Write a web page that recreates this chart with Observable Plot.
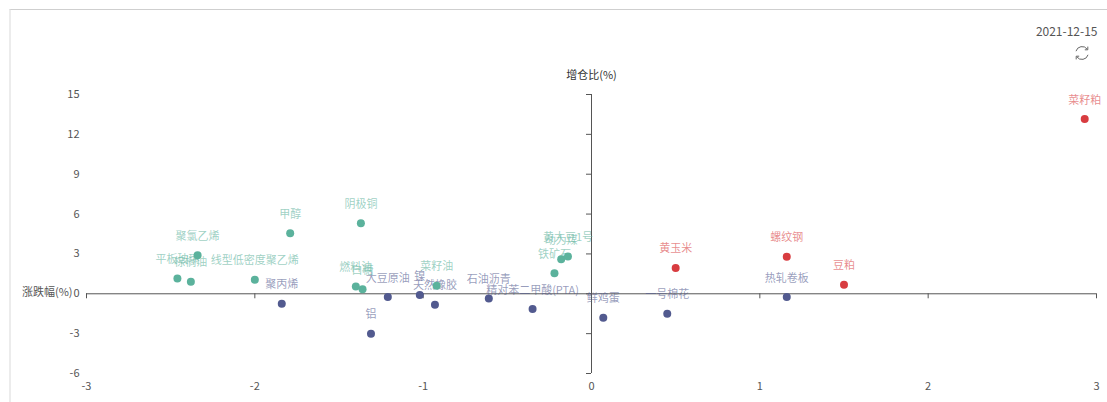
<!DOCTYPE html>
<html><head><meta charset="utf-8">
<script src="https://cdn.jsdelivr.net/npm/d3@7"></script>
<script src="https://cdn.jsdelivr.net/npm/@observablehq/plot@0.6"></script>
<style>
html,body{margin:0;padding:0;background:#fff;overflow:hidden}
#wrap{position:relative;width:1107px;height:402px;font-family:"Noto Sans CJK SC","Noto Sans",sans-serif}
#panel{position:absolute;left:9px;top:9px;width:1098px;height:393px;box-sizing:border-box;border-top:1px solid #cfcfcf;border-left:2px solid #ececec}
#chart{position:absolute;left:0;top:0}
#refresh{position:absolute;left:1074px;top:45px}
</style></head><body>
<div id="wrap"><div id="panel"></div><div id="chart"></div>
<svg id="refresh" width="16" height="16" viewBox="0 0 16 16" fill="none" stroke="#666" stroke-width="1">
<path d="M2 6.2A6.3 6.3 0 0 1 13.2 4.2"/><path d="M14 9.8A6.3 6.3 0 0 1 2.8 11.8"/>
<path d="M13.8 1.6V4.8H10.8" stroke-width="1"/><path d="M2.2 14.4V11.2H5.2" stroke-width="1"/></svg>
</div>
<script>
const names = ["菜籽粕","螺纹钢","豆粕","黄玉米",
  "热轧卷板","一号棉花","鲜鸡蛋","精对苯二甲酸(PTA)","石油沥青","天然橡胶","镍","大豆原油","铝","聚丙烯",
  "聚氯乙烯","平板玻璃","棕榈油","线型低密度聚乙烯","甲醇","阴极铜","燃料油","白糖","菜籽油","铁矿石","黄大豆1号","动力煤"];
const oiRatio = [2.93,1.16,1.50,0.50,
  1.16,0.45,0.07,-0.35,-0.61,-0.93,-1.02,-1.21,-1.31,-1.84,
  -2.34,-2.46,-2.38,-2.00,-1.79,-1.37,-1.40,-1.36,-0.92,-0.22,-0.14,-0.18];
const change = [13.15,2.78,0.68,1.95,
  -0.25,-1.50,-1.80,-1.15,-0.35,-0.83,-0.10,-0.25,-3.00,-0.75,
  2.90,1.15,0.90,1.05,4.55,5.30,0.55,0.35,0.60,1.55,2.80,2.60];
const xTicks = [-3,-2,-1,0,1,2,3];
const yTicks = [-6,-3,0,3,6,9,12,15];
const colors = {up:"#d83c40", down:"#525a8f", mid:"#5bb29c"};
const axisColor = "#555";

const rows = names.map((name,i)=>({name, x:oiRatio[i], y:change[i],
  group: oiRatio[i]>0 && change[i]>0 ? "up" : change[i]<0 ? "down" : "mid"}));

const plot = Plot.plot({
  width:1107, height:402,
  marginLeft:86, marginRight:11, marginTop:94, marginBottom:29,
  style:{background:"transparent", fontFamily:'"Noto Sans CJK SC","Noto Sans",sans-serif', fontSize:"11px", color:"#555"},
  x:{domain:[-3,3]},
  y:{domain:[-6,15]},
  color:{domain:Object.keys(colors), range:Object.values(colors)},
  marks:[
    Plot.axisX({ticks:xTicks, tickSize:0, tickPadding:9, tickFormat:d=>String(d), label:null, fontSize:11}),
    Plot.axisY({ticks:yTicks, tickSize:0, tickPadding:7, tickFormat:d=>String(d), label:null, fontSize:11}),
    Plot.ruleY([0],{x1:-3,x2:3,stroke:axisColor,strokeWidth:1}),
    Plot.ruleX([0],{y1:-6,y2:15,stroke:axisColor,strokeWidth:1}),
    Plot.ruleX(xTicks,{x:d=>d,y1:0,y2:0,insetBottom:-5,stroke:axisColor}),
    Plot.ruleY(yTicks,{y:d=>d,x1:0,x2:0,insetLeft:-5,stroke:axisColor}),
    Plot.text(rows,{x:"x",y:"y",text:"name",dy:-19,fill:d=>d.group,fillOpacity:0.6,fontSize:11}),
    Plot.dot(rows,{x:"x",y:"y",r:4,fill:d=>d.group}),
    Plot.text(["增仓比(%)"],{x:0,y:15,dy:-19,fill:"#333",fontSize:11}),
    Plot.text(["涨跌幅(%)"],{x:-3,y:0,dx:-14,dy:-1,textAnchor:"end",fill:"#555",fontSize:11}),
    Plot.text(["2021-12-15"],{frameAnchor:"top-right",dx:1,dy:-67,textAnchor:"end",fill:"#555",fontSize:12})
  ]
});
document.getElementById("chart").append(plot);
</script>
</body></html>
